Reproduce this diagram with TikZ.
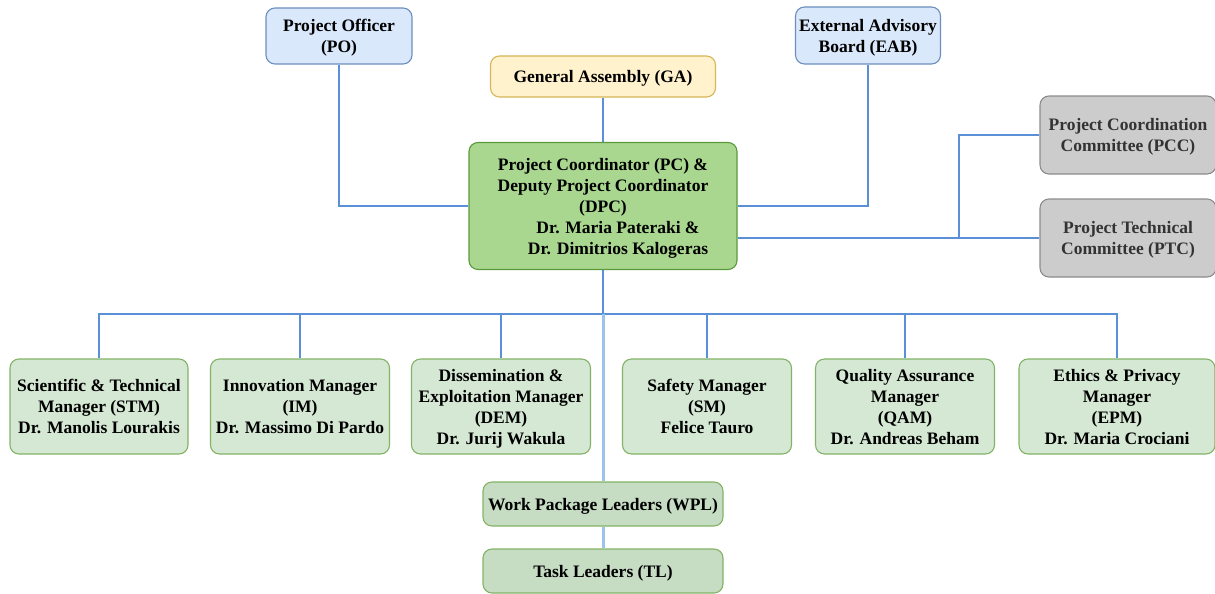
\documentclass[tikz,border=0pt]{standalone}
\usepackage{fontspec}
\setmainfont{Liberation Serif}
\begin{document}
\begin{tikzpicture}[x=1pt,y=-1pt,
  box/.style={draw,rounded corners=9pt,line width=1.1pt,align=center,inner sep=0pt,text depth=0pt,
    font=\fontsize{17.5}{21}\selectfont\bfseries,text=black},
  bluebox/.style={box,fill=blueF,draw=blueD},
  yellowbox/.style={box,fill=yelF,draw=yelD},
  pcbox/.style={box,fill=pcF,draw=pcD},
  mgrbox/.style={box,fill=mgF,draw=mgD,minimum height=95pt},
  wpbox/.style={box,fill=wpF,draw=mgD,minimum width=240pt,minimum height=44pt},
  greybox/.style={box,fill=grF,draw=grD,text=grT,minimum width=176pt,minimum height=78pt},
  link/.style={draw=lnk,line width=1.5pt},
  trunk/.style={draw=trk,line width=3pt}]
\definecolor{blueF}{HTML}{DAE8FC}\definecolor{blueD}{HTML}{6C8EBF}
\definecolor{yelF}{HTML}{FFF2CC}\definecolor{yelD}{HTML}{D6B656}
\definecolor{pcF}{HTML}{A9D78F}\definecolor{pcD}{HTML}{5A9A3A}
\definecolor{mgF}{HTML}{D5E8D4}\definecolor{mgD}{HTML}{82B366}
\definecolor{wpF}{HTML}{C6DCC3}
\definecolor{grF}{HTML}{CCCCCC}\definecolor{grD}{HTML}{8C8C8C}\definecolor{grT}{HTML}{333333}
\definecolor{lnk}{HTML}{5B90D8}\definecolor{trk}{HTML}{9CC3EC}
\useasboundingbox (0,0) rectangle (1215,594);

\node[bluebox,minimum width=146pt,minimum height=56pt] (PO) at (339,36) {Project Officer\\(PO)};
\node[bluebox,minimum width=145pt,minimum height=57pt] (EAB) at (868,35.5) {External Advisory\\Board (EAB)};
\node[yellowbox,minimum width=225pt,minimum height=41pt] (GA) at (603,76.5) {General Assembly (GA)};
\node[pcbox,minimum width=268pt,minimum height=127pt] (PC) at (603,206)
  {Project Coordinator (PC) \&\\Deputy Project Coordinator\\(DPC)\\\hspace*{30pt}Dr. Maria Pateraki \&\\\hspace*{30pt}Dr. Dimitrios Kalogeras};
\node[greybox] (PCC) at (1128,135) {Project Coordination\\Committee (PCC)};
\node[greybox] (PTC) at (1128,238) {Project Technical\\Committee (PTC)};

\node[mgrbox,minimum width=178pt] (STM) at (99,406.5) {Scientific \& Technical\\Manager (STM)\\Dr. Manolis Lourakis};
\node[mgrbox,minimum width=179pt] (IM) at (300,406.5) {Innovation Manager\\(IM)\\Dr. Massimo Di Pardo};
\node[mgrbox,minimum width=179pt] (DEM) at (501,406.5) {Dissemination \&\\Exploitation Manager\\(DEM)\\Dr. Jurij Wakula};
\node[mgrbox,minimum width=169pt] (SM) at (707,406.5) {Safety Manager\\(SM)\\Felice Tauro};
\node[mgrbox,minimum width=179pt] (QAM) at (905,406.5) {Quality Assurance\\Manager\\(QAM)\\Dr. Andreas Beham};
\node[mgrbox,minimum width=196pt] (EPM) at (1117,406.5) {Ethics \& Privacy\\Manager\\(EPM)\\Dr. Maria Crociani};

\node[wpbox] (WPL) at (603,504) {Work Package Leaders (WPL)};
\node[wpbox] (TL) at (603,571) {Task Leaders (TL)};

\coordinate (J) at (959,238);
\coordinate (B) at (603,314);

\path[link] (GA.south) -- (PC.north);
\path[link] (PO.south) |- (PC.west);
\path[link] (EAB.south) |- (PC.east);
\path[link] (PTC.west) -- (PTC.west -| PC.east);
\path[link] (PCC.west) -| (J);
\path[link] (B) -| (STM.north);
\path[link] (B) -| (IM.north);
\path[link] (B) -| (DEM.north);
\path[link] (B) -| (SM.north);
\path[link] (B) -| (QAM.north);
\path[link] (B) -| (EPM.north);
\path[trunk] (B) -- (WPL.north);
\path[trunk] (WPL.south) -- (TL.north);
\path[link,line width=1.8pt] (PC.south) -- (B);
\end{tikzpicture}
\end{document}
